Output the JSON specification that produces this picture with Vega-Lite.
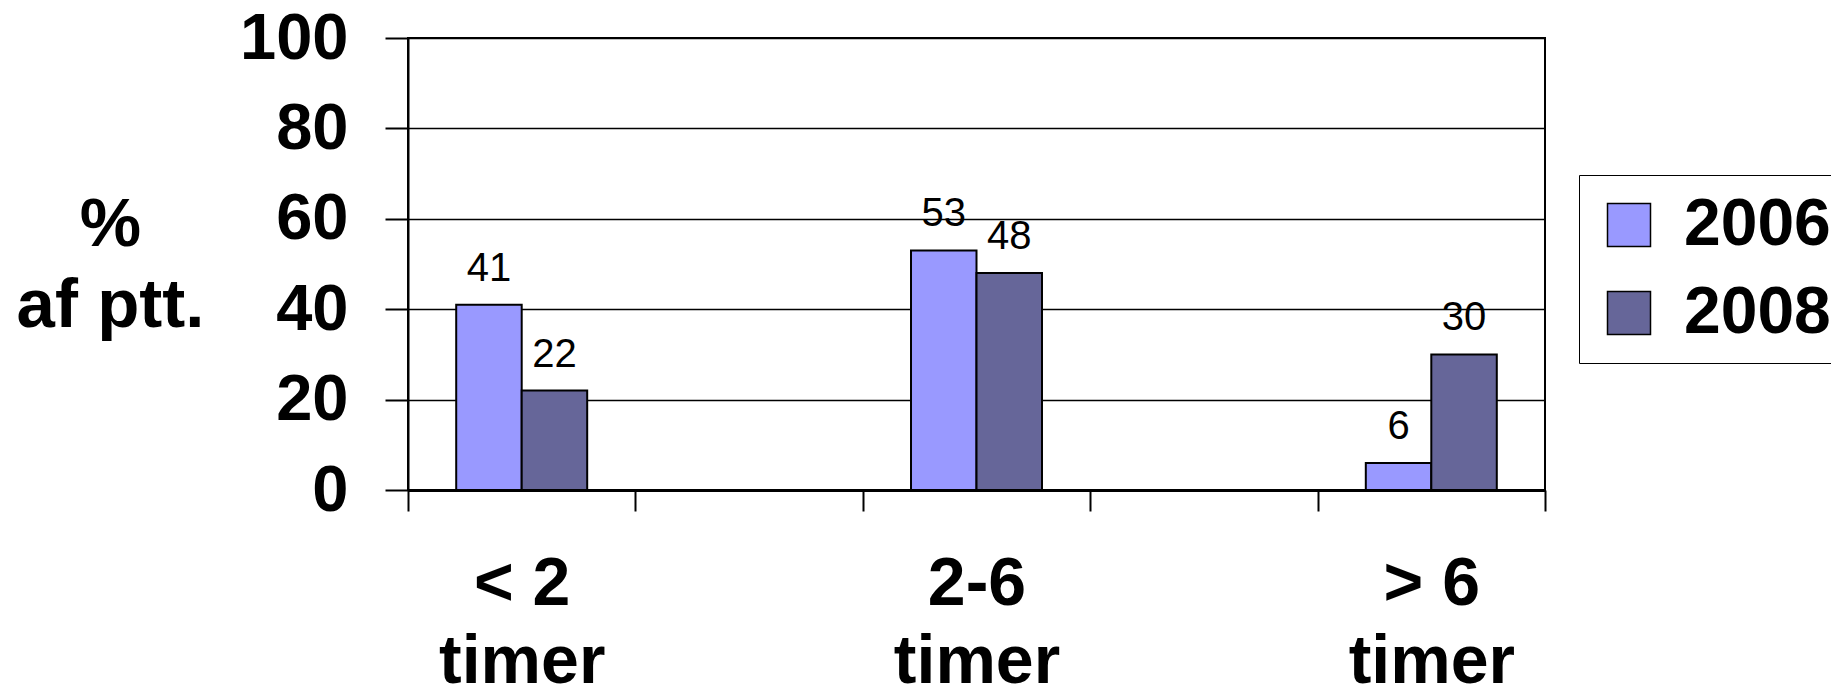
{
 "$schema": "https://vega.github.io/schema/vega-lite/v6.json",
 "width": 1137, "height": 452,
 "autosize": {"type": "none"},
 "padding": {"left": 408, "top": 38, "right": 286, "bottom": 194},
 "background": "white",
 "config": {"view": {"stroke": "black", "strokeWidth": 2}, "font": "Liberation Sans"},
 "data": {"values": [
  {"cat": "< 2", "year": "2006", "pct": 41}, {"cat": "< 2", "year": "2008", "pct": 22},
  {"cat": "2-6", "year": "2006", "pct": 53}, {"cat": "2-6", "year": "2008", "pct": 48},
  {"cat": "> 6", "year": "2006", "pct": 6}, {"cat": "> 6", "year": "2008", "pct": 30}
 ]},
 "encoding": {
  "x": {"field": "cat", "type": "nominal",
    "scale": {"domain": ["< 2", "gap1", "2-6", "gap2", "> 6"], "paddingInner": 0, "paddingOuter": 0},
    "axis": {"title": null, "labelAngle": 0,
      "labelExpr": "(datum.value == '< 2' || datum.value == '2-6' || datum.value == '> 6') ? [datum.value, 'timer'] : ''",
      "labelFont": "Liberation Sans", "labelFontSize": 68, "labelFontWeight": "bold", "labelColor": "black",
      "labelBaseline": "alphabetic", "labelPadding": 93, "labelLineHeight": 78,
      "labelOverlap": false, "labelFlush": false, "labelBound": false,
      "tickBand": "extent", "tickSize": 21, "tickColor": "black", "tickWidth": 2,
      "domainColor": "black", "domainWidth": 3, "grid": false}},
  "xOffset": {"field": "year", "type": "nominal", "scale": {"paddingOuter": 0.736, "paddingInner": 0}},
  "y": {"field": "pct", "type": "quantitative", "scale": {"domain": [0, 100], "nice": false},
    "axis": {"values": [0, 20, 40, 60, 80, 100], "title": ["%", "af ptt."], "titleAngle": 0,
      "titleX": -298, "titleY": 207, "titleAlign": "center", "titleBaseline": "alphabetic",
      "titleFontSize": 69, "titleFontWeight": "bold", "titleLineHeight": 81, "titleColor": "black", "titleFont": "Liberation Sans",
      "labelFont": "Liberation Sans", "labelFontSize": 65, "labelFontWeight": "bold", "labelColor": "black", "labelPadding": 37,
      "tickSize": 23, "tickColor": "black", "tickWidth": 2,
      "domainColor": "black", "domainWidth": 2,
      "gridColor": "black", "gridWidth": 1.5, "gridOpacity": 1}}
 },
 "layer": [
  {"mark": {"type": "bar", "stroke": "black", "strokeWidth": 2},
   "encoding": {"color": {"field": "year", "type": "nominal",
     "scale": {"domain": ["2006", "2008"], "range": ["#9999FF", "#666699"]},
     "legend": {"title": null, "orient": "none", "legendX": 1171, "legendY": 137,
       "strokeColor": "black", "padding": 17,
       "symbolType": "square", "symbolSize": 1849, "symbolStrokeColor": "black", "symbolStrokeWidth": 1.5,
       "labelFont": "Liberation Sans", "labelFontSize": 66, "labelFontWeight": "bold", "labelColor": "black",
       "labelOffset": 22, "rowPadding": 22}}}},
  {"mark": {"type": "text", "baseline": "alphabetic", "dy": -24, "fontSize": 40, "font": "Liberation Sans", "color": "black"},
   "encoding": {"text": {"field": "pct", "type": "quantitative"}}}
 ]
}
